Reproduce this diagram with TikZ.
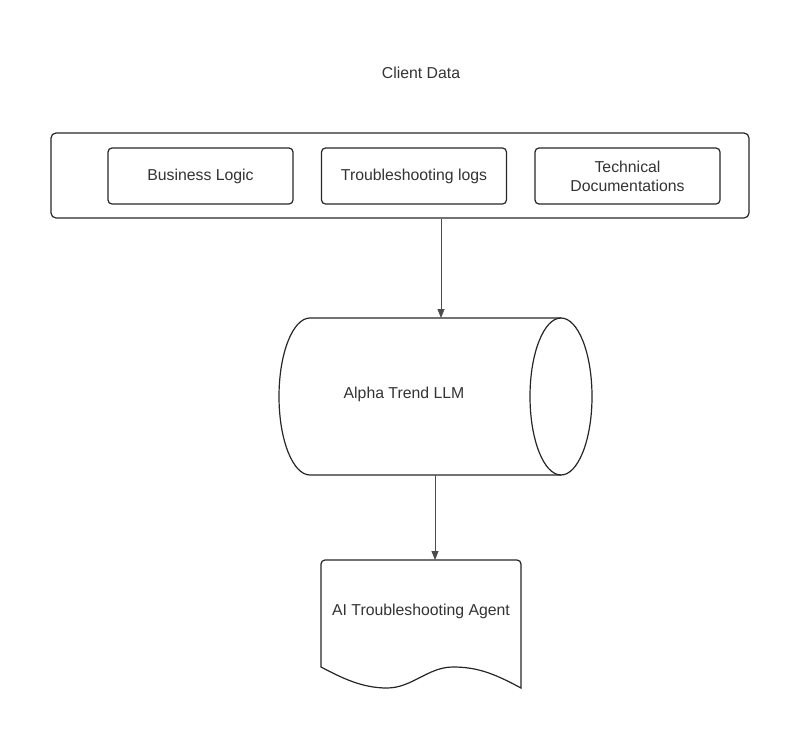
\documentclass[tikz,border=0pt]{standalone}
\usepackage{fontspec}
\setmainfont{Liberation Sans}
\usetikzlibrary{arrows.meta,calc}

\tikzset{
  lbl/.style={text=black!80, font=\fontsize{15.8}{19}\selectfont, align=center, inner sep=0pt},
  outline/.style={draw=black!85, line width=1.2pt},
  box/.style={outline, rounded corners=4pt, minimum width=185pt, minimum height=56pt},
  link/.style={draw=black!70, line width=0.8pt, -{Triangle[length=9pt,width=7pt]}}
}

\begin{document}
\begin{tikzpicture}[x=1pt,y=-1pt]
  \useasboundingbox (0,0) rectangle (800,737);

  \node[lbl] (title) at (421,73) {Client Data};
  \node[box, minimum width=698pt, minimum height=85pt, rounded corners=5pt] (data) at (400,175.5) {};
  \node[box,lbl,text depth=3pt] (logic) at (200.5,176) {Business Logic};
  \node[box,lbl,text depth=3pt] (logs) at (414,176) {Troubleshooting logs};
  \node[box,lbl] (docs) at (627.5,176) {Technical\\Documentations};

  % the cylinder
  \draw[outline] (561,318) -- (310,318)
    arc[start angle=270, end angle=90, x radius=31, y radius=78.5] -- (561,475);
  \draw[outline] (561,396.5) ellipse[x radius=31, y radius=78.5];
  \node[lbl] (llm) at (404,394) {Alpha Trend LLM};
  \coordinate (llmtop) at (441,318);
  \coordinate (llmbot) at (435,475);

  % the document
  \draw[outline] (321,667) [rounded corners=4pt] -- (321,560) -- (521,560) [sharp corners] -- (521,688)
    .. controls (495,674) and (478,667) .. (453,667)
    .. controls (428,667) and (412,688) .. (387,688)
    .. controls (362,688) and (342,678) .. (321,667) -- cycle;
  \node[lbl] (agent) at (421,611) {AI Troubleshooting Agent};
  \coordinate (agenttop) at (435,560);

  \draw[link] (data.south -| llmtop) -- (llmtop);
  \draw[link] (llmbot) -- (agenttop);
\end{tikzpicture}
\end{document}
